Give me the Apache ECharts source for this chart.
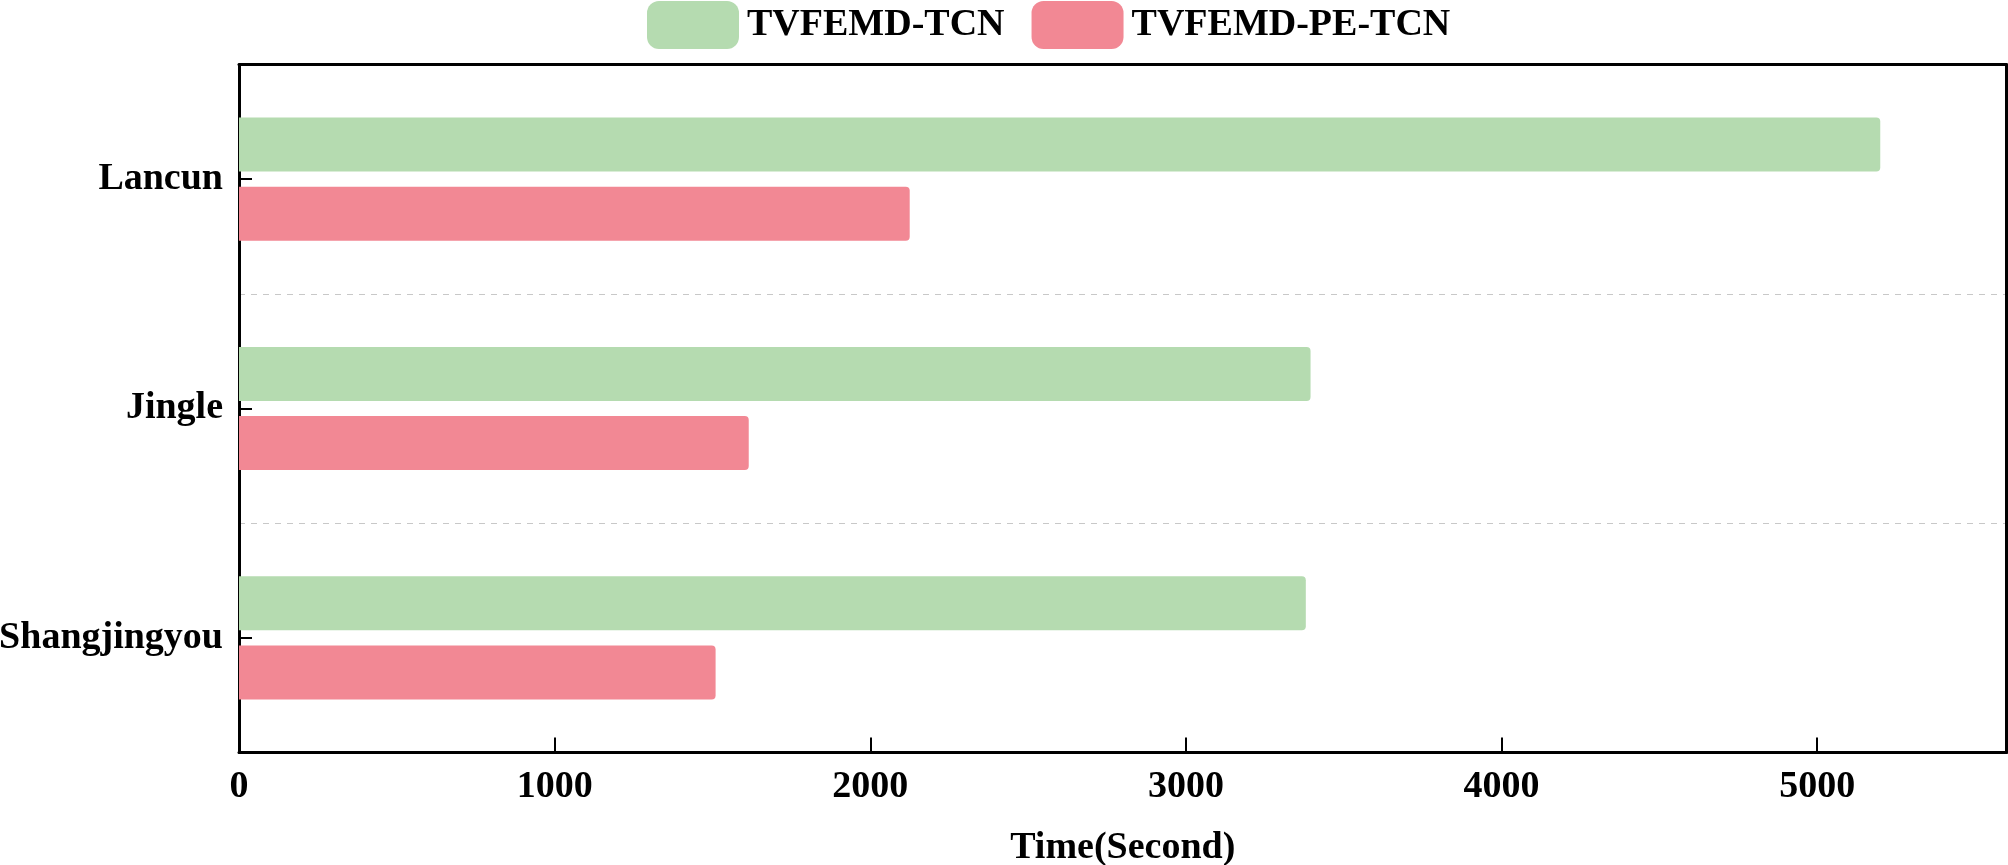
<!DOCTYPE html>
<html>
<head>
<meta charset="utf-8">
<script src="https://cdn.jsdelivr.net/npm/echarts@6/dist/echarts.min.js"></script>
<style>
html,body{margin:0;padding:0;background:#fff;}
#chart{width:2008px;height:865px;}
</style>
</head>
<body>
<div id="chart"></div>
<script>
const categories = ['Lancun', 'Jingle', 'Shangjingyou'];
const seriesNames = ['TVFEMD-TCN', 'TVFEMD-PE-TCN'];
const tcnValues = [5200, 3395, 3380];
const peTcnValues = [2125, 1615, 1510];
const xTicks = [0, 1000, 2000, 3000, 4000, 5000];

const FONT = "'Times New Roman', 'Liberation Serif', serif";
const chart = echarts.init(document.getElementById('chart'), null, {renderer: 'canvas'});
chart.setOption({
  animation: false,
  backgroundColor: '#ffffff',
  legend: {
    top: 1,
    left: 647,
    padding: 0,
    itemWidth: 92,
    itemHeight: 48,
    itemGap: 27,
    icon: 'roundRect',
    textStyle: {fontFamily: FONT, fontWeight: 'bold', fontSize: 38, color: '#000', padding: [0, 0, 0, 3]},
    data: seriesNames
  },
  grid: {left: 239, right: 1.5, top: 64.5, bottom: 112.5, containLabel: false, outerBoundsMode: 'none'},
  xAxis: [{
    type: 'value',
    min: 0,
    max: 5600,
    interval: 1000,
    name: 'Time(Second)',
    nameLocation: 'middle',
    nameGap: 77,
    nameTextStyle: {fontFamily: FONT, fontWeight: 'bold', fontSize: 38, color: '#000'},
    axisLine: {show: true, lineStyle: {color: '#000', width: 3}},
    axisTick: {show: true, inside: true, length: 15, lineStyle: {color: '#000', width: 2}},
    axisLabel: {
      fontFamily: FONT, fontWeight: 'bold', fontSize: 38, color: '#000', margin: 16,
      showMaxLabel: false,
      formatter: function (v) { return xTicks.indexOf(v) >= 0 ? String(v) : ''; }
    },
    splitLine: {show: false}
  }, {
    type: 'value',
    position: 'top',
    min: 0,
    max: 5600,
    axisLine: {show: true, onZero: false, lineStyle: {color: '#000', width: 3}},
    axisTick: {show: false},
    axisLabel: {show: false},
    splitLine: {show: false}
  }],
  yAxis: [{
    type: 'category',
    inverse: true,
    data: categories,
    axisLine: {show: true, lineStyle: {color: '#000', width: 3}},
    axisTick: {show: true, inside: true, alignWithLabel: true, length: 13, lineStyle: {color: '#000', width: 2}},
    axisLabel: {fontFamily: FONT, fontWeight: 'bold', fontSize: 38, color: '#000', margin: 16, padding: [5, 0, 0, 0]},
    splitLine: {show: true, lineStyle: {color: '#c8c8c8', type: [6, 6], width: 1}}
  }, {
    type: 'category',
    inverse: true,
    position: 'right',
    data: categories,
    axisLine: {show: true, onZero: false, lineStyle: {color: '#000', width: 3}},
    axisTick: {show: false},
    axisLabel: {show: false},
    splitLine: {show: false}
  }],
  series: [{
    name: seriesNames[0],
    type: 'bar',
    xAxisIndex: 0,
    yAxisIndex: 0,
    data: tcnValues,
    barWidth: 54,
    barGap: '28%',
    itemStyle: {color: '#b5dbb0', borderRadius: [0, 4, 4, 0]}
  }, {
    name: seriesNames[1],
    type: 'bar',
    xAxisIndex: 0,
    yAxisIndex: 0,
    data: peTcnValues,
    barWidth: 54,
    barGap: '28%',
    itemStyle: {color: '#f28894', borderRadius: [0, 4, 4, 0]}
  }]
});
</script>
</body>
</html>
